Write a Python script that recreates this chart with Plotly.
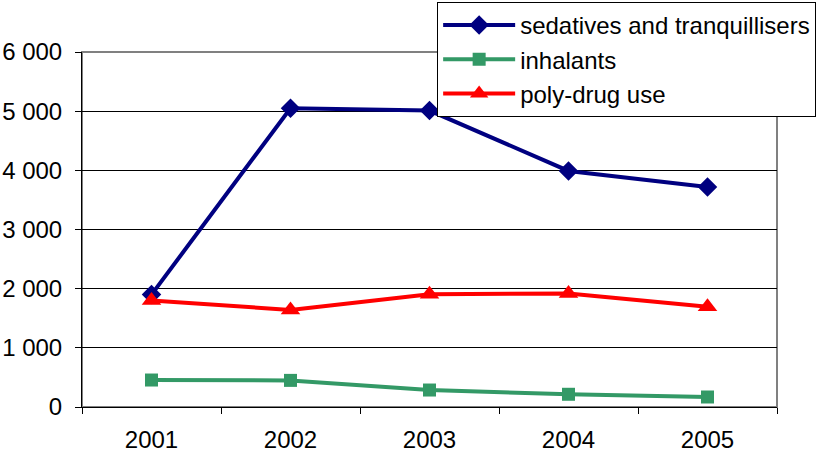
import plotly.graph_objects as go

years = ["2001", "2002", "2003", "2004", "2005"]
sedatives = [1900, 5050, 5010, 3990, 3720]
inhalants = [456, 450, 287, 215, 169]
polydrug = [1800, 1640, 1905, 1920, 1695]

fig = go.Figure()
fig.add_trace(go.Scatter(x=years, y=sedatives, name="sedatives and tranquillisers",
                         mode="lines+markers", line=dict(color="#000080", width=4),
                         marker=dict(symbol="diamond", size=15, color="#000080")))
fig.add_trace(go.Scatter(x=years, y=inhalants, name="inhalants",
                         mode="lines+markers", line=dict(color="#339966", width=4),
                         marker=dict(symbol="square", size=13, color="#339966")))
fig.add_trace(go.Scatter(x=years, y=polydrug, name="poly-drug use",
                         mode="lines+markers", line=dict(color="#FF0000", width=4),
                         marker=dict(symbol="triangle-up", size=17, color="#FF0000")))

fig.add_shape(type="rect", xref="paper", yref="paper", x0=0, x1=1, y0=0, y1=1,
              line=dict(color="#808080", width=2), layer="below")

fig.update_layout(
    width=827, height=454,
    margin=dict(l=82, r=50, t=52, b=47, autoexpand=False),
    paper_bgcolor="white", plot_bgcolor="white",
    separators=". ",
    font=dict(family="Liberation Sans, Arial, sans-serif", size=24, color="black"),
    showlegend=True,
    legend=dict(x=0.511, y=1.141, xanchor="left", yanchor="top",
                bgcolor="white", bordercolor="black", borderwidth=1,
                font=dict(size=24), tracegroupgap=0, itemwidth=72),
    xaxis=dict(type="category", showline=True, linecolor="black", linewidth=1,
               ticks="outside", tickson="boundaries", ticklen=6, tickcolor="black",
               showgrid=False, zeroline=False, range=[-0.5, 4.5],
               ticklabelstandoff=11),
    yaxis=dict(range=[0, 6000], dtick=1000, tickformat=",d", showline=True,
               linecolor="black", linewidth=1, ticks="outside", ticklen=6,
               tickcolor="black", showgrid=True, gridcolor="black", gridwidth=1,
               zeroline=False, ticklabelstandoff=8),
)

fig.write_html("out.html", config={"displayModeBar": False},
               post_script="document.body.style.margin='0';")
